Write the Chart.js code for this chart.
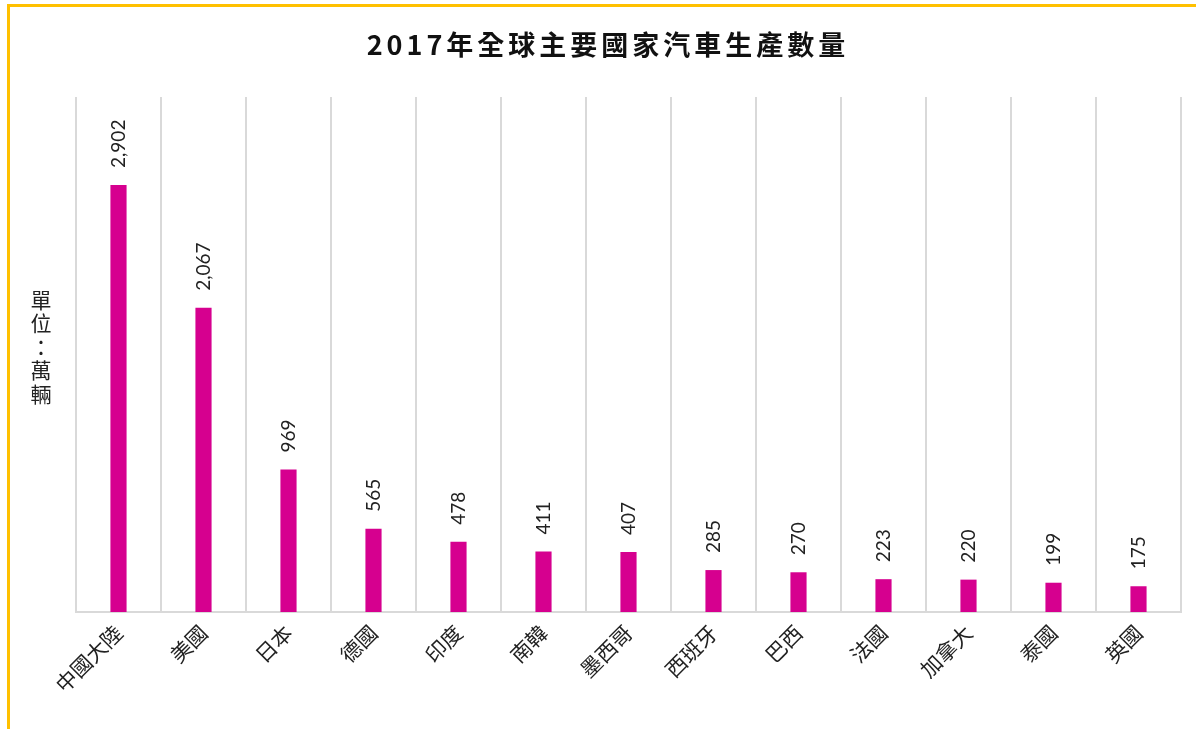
<!DOCTYPE html>
<html lang="zh-Hant">
<head>
    <meta charset="UTF-8">
    <title>2017年全球主要國家汽車生產數量</title>
    <script src="https://cdn.jsdelivr.net/npm/chart.js"></script>
    <style>
        html, body { margin: 0; padding: 0; background: #fff; }
        #wrap { position: relative; width: 1196px; height: 729px; overflow: hidden; }
        #frame {
            position: absolute; left: 7px; top: 4px; width: 1300px; height: 900px;
            border-top: 3px solid #FFC000; border-left: 3px solid #FFC000;
            pointer-events: none;
        }
    </style>
</head>
<body>
<div id="wrap">
    <canvas id="carChart" width="1196" height="729"></canvas>
    <div id="frame"></div>
</div>

<script>
    // Datos
    const paises = ['中國大陸', '美國', '日本', '德國', '印度', '南韓', '墨西哥', '西班牙', '巴西', '法國', '加拿大', '泰國', '英國'];
    const produccion = [2902, 2067, 969, 565, 478, 411, 407, 285, 270, 223, 220, 199, 175];
    const titulo = '2017年全球主要國家汽車生產數量';
    const unidad = ['單', '位', '：', '萬', '輛'];

    const cjk = '"Noto Sans CJK TC", "Noto Sans", sans-serif';

    // Etiquetas verticales sobre las barras, título y unidad
    const extras = {
        id: 'extras',
        afterDatasetsDraw(chart) {
            const ctx = chart.ctx;
            const meta = chart.getDatasetMeta(0);
            ctx.save();
            ctx.fillStyle = '#222';
            ctx.font = '19px Lato, "Noto Sans", sans-serif';
            ctx.textAlign = 'left';
            ctx.textBaseline = 'middle';
            meta.data.forEach((bar, i) => {
                ctx.save();
                ctx.translate(bar.x, bar.y - 17);
                ctx.rotate(-Math.PI / 2);
                ctx.fillText(produccion[i].toLocaleString('en-US'), 0, 0);
                ctx.restore();
            });
            ctx.restore();

            // título
            ctx.save();
            ctx.fillStyle = '#111';
            ctx.font = 'bold 27px ' + cjk;
            ctx.letterSpacing = '4px';
            ctx.textAlign = 'center';
            ctx.textBaseline = 'middle';
            ctx.fillText(titulo, 608, 45);
            ctx.restore();

            // unidad
            ctx.save();
            ctx.fillStyle = '#222';
            ctx.font = '21px ' + cjk;
            ctx.textAlign = 'center';
            ctx.textBaseline = 'middle';
            unidad.forEach((c, i) => ctx.fillText(c, 41, 300 + i * 23.5));
            ctx.restore();
        }
    };

    const ctx = document.getElementById('carChart').getContext('2d');
    new Chart(ctx, {
        type: 'bar',
        data: {
            labels: paises,
            datasets: [{
                data: produccion,
                backgroundColor: '#D6008F',
                barPercentage: 0.19,
                categoryPercentage: 1
            }]
        },
        options: {
            responsive: false,
            animation: false,
            layout: { padding: { left: 76, right: 15, top: 97, bottom: 0 } },
            plugins: {
                legend: { display: false },
                title: { display: false },
                tooltip: { enabled: false }
            },
            scales: {
                x: {
                    grid: { color: '#D9D9D9', lineWidth: 2, drawTicks: false, offset: true },
                    border: { color: '#D9D9D9', width: 2 },
                    ticks: {
                        color: '#222',
                        font: { family: cjk, size: 21 },
                        minRotation: 45,
                        maxRotation: 45,
                        padding: 8
                    },
                    afterFit: s => { s.height = 117; }
                },
                y: {
                    min: 0,
                    max: 3500,
                    display: true,
                    grid: { display: false },
                    border: { display: false },
                    ticks: { display: false },
                    afterFit: s => { s.width = 0; }
                }
            }
        },
        plugins: [extras]
    });
</script>
</body>
</html>
